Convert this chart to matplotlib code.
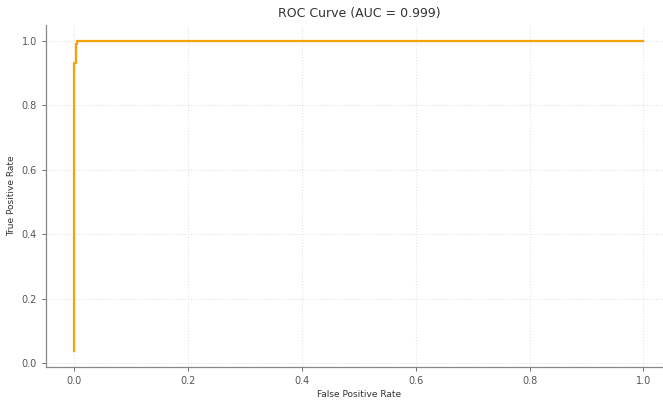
import matplotlib
matplotlib.use("Agg")
import matplotlib.pyplot as plt

# ROC points (false positive rate, true positive rate)
fpr = [0.0, 0.0, 0.002, 0.002, 0.004, 0.004, 1.0]
tpr = [0.037, 0.93, 0.93, 0.99, 0.99, 1.0, 1.0]
auc_value = 0.999

fig = plt.figure(figsize=(6.63, 4.0), dpi=100)
ax = fig.add_axes([0.0694, 0.0825, 0.944, 0.855])

ax.plot(fpr, tpr, color="#f5a20a", linewidth=1.6)
ax.margins(x=0.05, y=0.05)

ax.set_title(f"ROC Curve (AUC = {auc_value:.3f})", fontsize=9, color="#333333", pad=6)
ax.set_xlabel("False Positive Rate", fontsize=6.5, color="#333333", labelpad=3)
ax.set_ylabel("True Positive Rate", fontsize=6.5, color="#333333", labelpad=4)

ax.set_xticks([0.0, 0.2, 0.4, 0.6, 0.8, 1.0])
ax.set_yticks([0.0, 0.2, 0.4, 0.6, 0.8, 1.0])
ax.tick_params(labelsize=7, colors="#555555", length=3, width=0.6)

ax.grid(True, color="#e4e4e4", linestyle=":", linewidth=0.8)
ax.set_axisbelow(True)
for side in ("top", "right"):
    ax.spines[side].set_visible(False)
for side in ("left", "bottom"):
    ax.spines[side].set_color("#888888")
    ax.spines[side].set_linewidth(0.9)

fig.savefig("out.png", dpi=100)
